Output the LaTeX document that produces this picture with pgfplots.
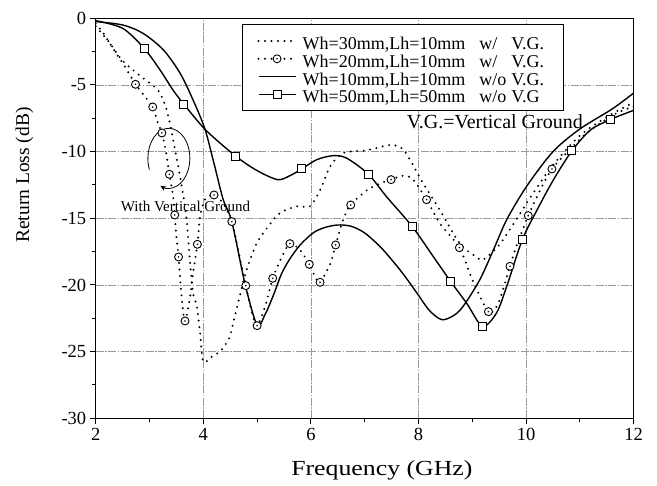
\documentclass[border=0pt]{standalone}
\usepackage{fontspec}
\setmainfont{Liberation Serif}
\newfontfamily\widefont[FakeStretch=1.2]{Liberation Serif}
\usepackage{pgfplots}
\pgfplotsset{compat=1.18}
\usetikzlibrary{arrows.meta}

\pgfdeclareplotmark{cdot}{%
  \pgfpathcircle{\pgfpointorigin}{\pgfplotmarksize}%
  \pgfusepathqfillstroke
  \begin{pgfscope}%
  \pgfsetfillcolor{black}%
  \pgfpathcircle{\pgfpointorigin}{0.9pt}%
  \pgfusepathqfill
  \end{pgfscope}%
}

\pgfplotsset{
  dotline/.style={black, line width=2.2pt, line cap=round, dash pattern=on 0pt off 6.5pt},
  solidline/.style={black, line width=1.4pt},
  circmark/.style={mark=cdot, mark size=4pt, mark options={solid, fill=white, line width=0.9pt}},
  sqmark/.style={mark=square*, mark size=4pt, mark options={solid, fill=white, line width=1pt}},
}

\begin{document}
\begin{tikzpicture}
\begin{axis}[
  name=ax,
  scale only axis,
  width=538pt, height=400pt,
  xmin=2, xmax=12, ymin=-30, ymax=0,
  xtick={2,4,6,8,10,12},
  ytick={-30,-25,-20,-15,-10,-5,0},
  minor x tick num=1, minor y tick num=1,
  xtick pos=left, ytick pos=left,
  tick align=outside,
  major tick length=6pt, minor tick length=4pt,
  tick style={black, line width=1pt},
  axis line style={line width=1.5pt},
  grid=major,
  major grid style={black!40, line width=0.7pt, dash pattern=on 8pt off 1.5pt on 1.5pt off 1.5pt},
  /pgf/number format/assume math mode=true,
  ticklabel style={font=\fontsize{18.5}{18.5}\selectfont},
  xlabel={\widefont\fontsize{21.5}{21.5}\selectfont Frequency (GHz)},
  ylabel={\fontsize{19.5}{19.5}\selectfont Return Loss (dB)},
  every axis x label/.style={at={(axis description cs:0.532,0)}, anchor=base, yshift=-56.7pt},
  every axis y label/.style={at={(axis description cs:-0.1323,0.608)}, rotate=90, anchor=center},
  legend image code/.code={\draw[mark repeat=2,mark phase=2,#1] plot coordinates {(0pt,0pt) (18.5pt,0pt) (37pt,0pt)};},
  legend style={at={(rel axis cs:0.272,0.985)}, anchor=north west, draw=black, line width=0.8pt,
    font=\fontsize{18}{18}\selectfont, inner xsep=15pt, inner ysep=7.4pt, column sep=2pt,
    nodes={inner xsep=4pt, inner ysep=0pt, text height=17.3pt, text depth=0.5pt}},
  legend cell align=left,
]

% Wh=10mm, Lh=10mm w/o V.G. (plain solid)
\addplot[solidline, smooth, forget plot] coordinates {
(2,-0.25) (2.5,-0.5) (2.88,-1.13) (3.26,-2.38) (3.57,-4.13) (3.81,-6.13) (4.03,-8.3)
(4.2,-10.9) (4.37,-13.6) (4.53,-15.25) (4.78,-20.0) (5.0,-23.0) (5.15,-22.2) (5.3,-20.8)
(5.45,-19.2) (5.6,-18.1) (5.8,-17.0) (6.04,-16.1) (6.25,-15.7) (6.5,-15.5) (6.75,-15.6)
(7.0,-16.1) (7.28,-17.1) (7.5,-18.1) (7.72,-19.2) (7.97,-20.6) (8.2,-21.9) (8.43,-22.6)
(8.65,-22.3) (8.83,-21.6) (9.14,-19.6) (9.4,-17.3) (9.64,-15.1) (10.01,-12.6) (10.5,-10.0)
(11.0,-8.3) (11.6,-6.8) (12,-5.6)
};

% Wh=50mm, Lh=50mm w/o V.G (solid with squares)
\addplot[solidline, smooth, forget plot] coordinates {
(2,-0.18) (2.5,-0.75) (2.90,-2.25) (3.2,-3.9) (3.44,-5.4) (3.64,-6.45) (4.05,-8.4)
(4.6,-10.33) (4.99,-11.4) (5.38,-12.1) (5.61,-11.8) (5.83,-11.3) (6.11,-10.6) (6.42,-10.3)
(6.67,-10.5) (7.07,-11.7) (7.41,-13.4) (7.88,-15.6) (8.28,-17.9) (8.6,-19.75) (8.9,-21.4)
(9.19,-23.1) (9.45,-22.1) (9.64,-20.1) (9.93,-16.6) (10.2,-14.4) (10.51,-12.1) (10.85,-9.95)
(11.19,-8.4) (11.56,-7.6) (12,-6.9)
};
\addplot[black, only marks, sqmark, forget plot] coordinates {
(2.90,-2.25) (3.64,-6.45) (4.60,-10.33) (5.83,-11.3) (7.07,-11.7) (7.88,-15.6)
(8.6,-19.75) (9.19,-23.1) (9.93,-16.6) (10.85,-9.95) (11.56,-7.6)
};

% Wh=30mm, Lh=10mm w/ V.G. (dotted)
\addplot[dotline, smooth, forget plot] coordinates {
(2,-0.6) (2.14,-1.25) (2.27,-1.9) (2.48,-3.1) (2.73,-4.0) (2.92,-4.6) (3.16,-5.4)
(3.29,-6.5) (3.38,-7.9) (3.5,-10.4) (3.6,-12.6) (3.69,-15.1) (3.75,-18.1) (3.81,-20.6)
(3.88,-21.6) (3.94,-23.6) (4.0,-25.75) (4.15,-25.4) (4.31,-25.0) (4.48,-24.0) (4.57,-22.6)
(4.68,-20.8) (4.81,-18.8) (4.99,-16.9) (5.18,-15.75) (5.43,-14.6) (5.74,-14.1) (5.98,-14.1)
(6.17,-12.9) (6.36,-11.1) (6.6,-10.1) (7.04,-9.9) (7.47,-9.5) (7.69,-9.75) (7.84,-10.6)
(8.09,-12.4) (8.4,-14.4) (8.77,-16.9) (9.08,-17.9) (9.2,-18.1) (9.5,-17.0) (9.8,-15.2)
(10.1,-13.3) (10.5,-11.0) (11.0,-8.8) (11.5,-7.4) (12,-6.3)
};

% Wh=20mm, Lh=10mm w/ V.G. (dotted with circles)
\addplot[dotline, smooth, forget plot] coordinates {
(2,-0.4) (2.14,-1.1) (2.36,-2.5) (2.54,-3.6) (2.74,-4.95) (2.92,-5.9) (3.06,-6.65)
(3.16,-7.9) (3.23,-8.6) (3.31,-10.1) (3.37,-11.7) (3.44,-13.4) (3.47,-14.75) (3.50,-16.4)
(3.54,-17.9) (3.60,-21.0) (3.66,-22.7) (3.75,-21.0) (3.81,-19.1) (3.89,-16.95) (3.94,-14.9)
(4.03,-13.6) (4.20,-13.25) (4.37,-13.9) (4.53,-15.25) (4.66,-17.6) (4.79,-20.05) (4.9,-22.0)
(5.0,-23.05) (5.15,-21.6) (5.29,-19.5) (5.46,-17.9) (5.61,-16.9) (5.80,-17.4) (5.97,-18.45)
(6.08,-19.4) (6.17,-19.8) (6.36,-18.4) (6.46,-17.0) (6.60,-15.1) (6.74,-14.0) (7.04,-12.9)
(7.28,-12.4) (7.49,-12.1) (7.72,-11.8) (7.90,-12.1) (8.15,-13.6) (8.40,-15.4) (8.76,-17.2)
(9.0,-19.6) (9.30,-22.0) (9.48,-21.4) (9.70,-18.6) (9.82,-17.1) (10.04,-14.8) (10.26,-12.9)
(10.48,-11.3) (10.75,-10.1) (11.13,-8.6) (11.62,-7.25) (12,-6.6)
};
\addplot[black, only marks, circmark, forget plot] coordinates {
(2.74,-4.95) (3.06,-6.65) (3.23,-8.6) (3.37,-11.7) (3.47,-14.75) (3.54,-17.9) (3.66,-22.7)
(3.89,-16.95) (4.20,-13.25) (4.53,-15.25) (4.79,-20.05) (5.0,-23.05) (5.29,-19.5) (5.61,-16.9)
(5.97,-18.45) (6.17,-19.8) (6.46,-17.0) (6.74,-14.0) (7.49,-12.1) (8.15,-13.6) (8.76,-17.2)
(9.30,-22.0) (9.70,-18.6) (10.04,-14.8) (10.48,-11.3)
};

\addlegendimage{dotline}
\addlegendentry{\makebox[176.7pt][l]{Wh=30mm,Lh=10mm}\makebox[32pt][l]{w/}V.G.}
\addlegendimage{dotline, circmark}
\addlegendentry{\makebox[176.7pt][l]{Wh=20mm,Lh=10mm}\makebox[32pt][l]{w/}V.G.}
\addlegendimage{solidline}
\addlegendentry{\makebox[176.7pt][l]{Wh=10mm,Lh=10mm}\makebox[32pt][l]{w/o}V.G.}
\addlegendimage{solidline, sqmark}
\addlegendentry{\makebox[176.7pt][l]{Wh=50mm,Lh=50mm}\makebox[32pt][l]{w/o}V.G}

% annotations
\draw[black, line width=0.8pt, -{Stealth[length=6pt,width=5pt]}]
  (axis cs:3.36,-10.5) ++(202:21pt and 30pt) arc[start angle=202, end angle=-114, x radius=21pt, y radius=30pt];
\node[font=\fontsize{15}{15}\selectfont] at (axis cs:3.67,-14.13) {With Vertical Ground};
\node[font=\fontsize{20}{20}\selectfont] at (axis cs:9.42,-7.76) {V.G.=Vertical Ground};
\end{axis}
\pgfresetboundingbox
\path[use as bounding box] ([xshift=-95.7pt,yshift=-66.7pt]ax.south west) rectangle ([xshift=23.3pt,yshift=18.3pt]ax.north east);
\end{tikzpicture}
\end{document}
